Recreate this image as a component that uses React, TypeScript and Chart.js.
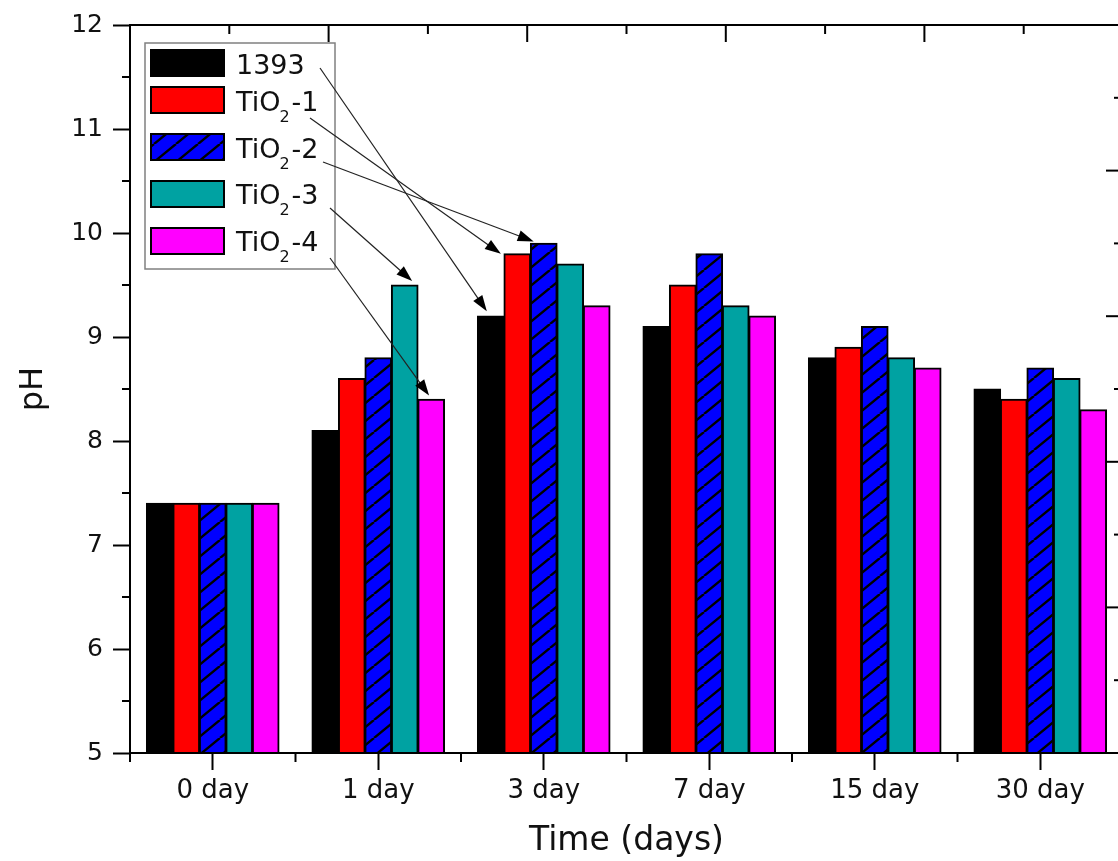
import React, { useEffect, useRef } from 'react';
import { Chart, registerables } from 'chart.js';

Chart.register(...registerables);

// ---------- data ----------
const CATEGORIES = ['0 day', '1 day', '3 day', '7 day', '15 day', '30 day'];
const SERIES_NAMES = ['1393', 'TiO₂-1', 'TiO₂-2', 'TiO₂-3', 'TiO₂-4'];
const S_1393 = [7.4, 8.1, 9.2, 9.1, 8.8, 8.5];
const S_TIO2_1 = [7.4, 8.6, 9.8, 9.5, 8.9, 8.4];
const S_TIO2_2 = [7.4, 8.8, 9.9, 9.8, 9.1, 8.7];
const S_TIO2_3 = [7.4, 9.5, 9.7, 9.3, 8.8, 8.6];
const S_TIO2_4 = [7.4, 8.4, 9.3, 9.2, 8.7, 8.3];
const Y_MIN = 5;
const Y_MAX = 12;
const Y_STEP = 1;
const SECONDARY_STEPS = 10; // unlabeled top/right axes (0..10, major every 2)

// legend label parts (main text, subscript, tail)
const LEGEND_PARTS: [string, string, string][] = [
  ['1393', '', ''],
  ['TiO', '2', '-1'],
  ['TiO', '2', '-2'],
  ['TiO', '2', '-3'],
  ['TiO', '2', '-4'],
];

// arrows: [series index, category index, tip dx as fraction of bar width, tip dy]
const ARROW_TARGETS: [number, number, number, number][] = [
  [0, 2, -0.15, -5],
  [1, 2, -0.62, 0],
  [2, 2, -0.38, -2],
  [3, 1, 0.28, -4],
  [4, 1, -0.08, -4],
];
const ARROW_STARTS: [number, number][] = [
  [320, 68],
  [310, 118],
  [323, 162],
  [330, 208],
  [330, 258],
];

const FONT = '"DejaVu Sans", "Liberation Sans", Arial, sans-serif';
const TEXT = '#111';

function makeHatch(): CanvasPattern | string {
  const w = 22;
  const h = 18;
  const c = document.createElement('canvas');
  c.width = w;
  c.height = h;
  const g = c.getContext('2d');
  if (!g) return '#0000FF';
  g.fillStyle = '#0000FF';
  g.fillRect(0, 0, w, h);
  g.strokeStyle = '#000';
  g.lineWidth = 2.4;
  g.beginPath();
  for (const k of [-w, 0, w]) {
    g.moveTo(k, h);
    g.lineTo(k + w, 0);
  }
  g.stroke();
  const p = g.createPattern(c, 'repeat');
  return p || '#0000FF';
}

function line(ctx: CanvasRenderingContext2D, x1: number, y1: number, x2: number, y2: number) {
  ctx.beginPath();
  ctx.moveTo(x1, y1);
  ctx.lineTo(x2, y2);
  ctx.stroke();
}

function arrow(ctx: CanvasRenderingContext2D, x1: number, y1: number, x2: number, y2: number) {
  const a = Math.atan2(y2 - y1, x2 - x1);
  const hl = 16;
  const hw = 5.5;
  const bx = x2 - hl * Math.cos(a);
  const by = y2 - hl * Math.sin(a);
  ctx.strokeStyle = '#222';
  ctx.lineWidth = 1.2;
  line(ctx, x1, y1, bx + 2 * Math.cos(a), by + 2 * Math.sin(a));
  ctx.fillStyle = '#000';
  ctx.beginPath();
  ctx.moveTo(x2, y2);
  ctx.lineTo(bx + hw * Math.sin(a), by - hw * Math.cos(a));
  ctx.lineTo(bx - hw * Math.sin(a), by + hw * Math.cos(a));
  ctx.closePath();
  ctx.fill();
}

export default function App() {
  const ref = useRef<HTMLCanvasElement>(null);

  useEffect(() => {
    const canvas = ref.current;
    if (!canvas) return;
    const hatch = makeHatch();
    const fills: (string | CanvasPattern)[] = ['#000000', '#FF0000', hatch, '#00A2A2', '#FF00FF'];
    const seriesData = [S_1393, S_TIO2_1, S_TIO2_2, S_TIO2_3, S_TIO2_4];

    const framePlugin = {
      id: 'frameAndAnnotations',
      afterDatasetsDraw(chart: any) {
        const { ctx, chartArea, scales } = chart;
        const { left, right, top, bottom } = chartArea;
        ctx.save();
        ctx.strokeStyle = '#000';
        ctx.lineWidth = 2;
        ctx.lineCap = 'butt';
        // frame
        ctx.beginPath();
        ctx.moveTo(left, top);
        ctx.lineTo(right, top);
        ctx.lineTo(right, bottom);
        ctx.lineTo(left, bottom);
        ctx.closePath();
        ctx.stroke();
        // top & right secondary ticks (inward)
        for (let k = 0; k <= SECONDARY_STEPS; k++) {
          const len = k % 2 === 0 ? 17 : 9;
          const x = left + ((right - left) * k) / SECONDARY_STEPS;
          line(ctx, x, top, x, top + len);
          const y = bottom - ((bottom - top) * k) / SECONDARY_STEPS;
          line(ctx, right, y, right - len, y);
        }
        // y minor ticks (outward)
        const ys = scales.y;
        for (let v = Y_MIN + Y_STEP / 2; v < Y_MAX; v += Y_STEP) {
          const py = ys.getPixelForValue(v);
          line(ctx, left - 8, py, left, py);
        }
        // x minor ticks at category boundaries
        const xs = scales.x;
        const n = CATEGORIES.length;
        for (let i = 0; i <= n; i++) {
          const px = xs.getPixelForValue(i - 0.5);
          line(ctx, px, bottom, px, bottom + 9);
        }
        ctx.restore();
      },
      afterDraw(chart: any) {
        const { ctx } = chart;
        ctx.save();
        // legend box
        const lx = 145, ly = 43, lw = 190, lh = 226;
        ctx.fillStyle = '#fff';
        ctx.fillRect(lx, ly, lw, lh);
        ctx.strokeStyle = '#808080';
        ctx.lineWidth = 1.5;
        ctx.strokeRect(lx, ly, lw, lh);
        const swTops = [50, 87, 134, 181, 228];
        const baselines = [74, 111, 158, 204, 251];
        ctx.textBaseline = 'alphabetic';
        ctx.textAlign = 'left';
        LEGEND_PARTS.forEach((parts, i) => {
          ctx.fillStyle = fills[i] as any;
          ctx.fillRect(151, swTops[i], 73, 26);
          ctx.strokeStyle = '#000';
          ctx.lineWidth = 2;
          ctx.strokeRect(151, swTops[i], 73, 26);
          ctx.fillStyle = TEXT;
          let x = 236;
          ctx.font = `27px ${FONT}`;
          ctx.fillText(parts[0], x, baselines[i]);
          x += ctx.measureText(parts[0]).width;
          if (parts[1]) {
            ctx.font = `16px ${FONT}`;
            ctx.fillText(parts[1], x - 1, baselines[i] + 11);
            x += ctx.measureText(parts[1]).width;
          }
          if (parts[2]) {
            ctx.font = `27px ${FONT}`;
            ctx.fillText(parts[2], x + 1, baselines[i]);
          }
        });
        // arrows
        ARROW_TARGETS.forEach(([ds, cat, fx, dy], i) => {
          const el = chart.getDatasetMeta(ds).data[cat];
          if (!el) return;
          const tx = el.x + fx * el.width;
          const ty = el.y + dy;
          arrow(ctx, ARROW_STARTS[i][0], ARROW_STARTS[i][1], tx, ty);
        });
        ctx.restore();
      },
    };

    const chart = new Chart(canvas, {
      type: 'bar',
      data: {
        labels: CATEGORIES,
        datasets: seriesData.map((d, i) => ({
          label: SERIES_NAMES[i],
          data: d,
          backgroundColor: fills[i] as any,
          borderColor: '#000',
          borderWidth: 2,
          inflateAmount: 0.6,
          barPercentage: 1,
          categoryPercentage: 0.8,
        })),
      },
      options: {
        responsive: false,
        animation: false,
        devicePixelRatio: 1,
        layout: { padding: { left: 0, top: 25, right: 17, bottom: 0 } },
        plugins: { legend: { display: false }, tooltip: { enabled: false } },
        scales: {
          x: {
            grid: {
              display: true,
              drawOnChartArea: false,
              drawTicks: true,
              tickLength: 17,
              tickWidth: 2,
              tickColor: '#000',
              offset: false,
            },
            border: { display: false },
            ticks: { font: { family: FONT, size: 26 }, color: TEXT, padding: 6, maxRotation: 0 },
            title: {
              display: true,
              text: 'Time (days)',
              font: { family: FONT, size: 33 },
              color: TEXT,
              padding: { top: 0, bottom: 0 },
            },
            afterFit: (s: any) => {
              s.height = 108;
            },
          },
          y: {
            min: Y_MIN,
            max: Y_MAX,
            ticks: { stepSize: Y_STEP, font: { family: FONT, size: 25 }, color: TEXT, padding: 10 },
            grid: {
              display: true,
              drawOnChartArea: false,
              drawTicks: true,
              tickLength: 17,
              tickWidth: 2,
              tickColor: '#000',
            },
            border: { display: false },
            title: {
              display: true,
              text: 'pH',
              font: { family: FONT, size: 32 },
              color: TEXT,
              padding: { top: 14, bottom: 0 },
            },
            afterFit: (s: any) => {
              s.width = 130;
            },
          },
        },
      },
      plugins: [framePlugin],
    } as any);

    return () => chart.destroy();
  }, []);

  return (
    <div
      style={{
        position: 'fixed',
        left: 0,
        top: 0,
        width: 1118,
        height: 861,
        overflow: 'hidden',
        background: '#fff',
      }}
    >
      <canvas ref={ref} width={1140} height={861} style={{ display: 'block' }} />
    </div>
  );
}
